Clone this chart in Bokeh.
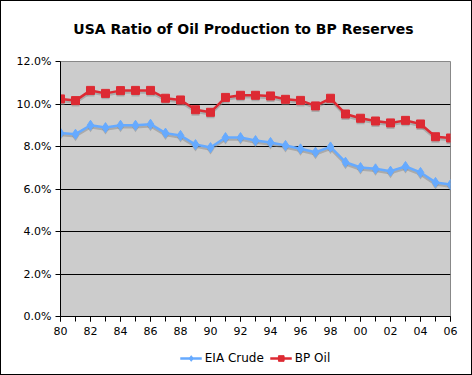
from bokeh.plotting import figure
from bokeh.layouts import column
from bokeh.models import (Range1d, FixedTicker, PrintfTickFormatter, Legend, LegendItem,
                          ColumnDataSource, Label)
from bokeh.embed import file_html
from bokeh.resources import INLINE

years = list(range(1980, 2007))
eia_crude = [8.63, 8.58, 9.00, 8.89, 9.00, 9.00, 9.05, 8.63, 8.52, 8.09, 7.95, 8.42, 8.42, 8.28,
             8.19, 8.05, 7.89, 7.73, 7.98, 7.26, 7.01, 6.95, 6.84, 7.06, 6.78, 6.31, 6.21]
bp_oil = [10.24, 10.16, 10.64, 10.50, 10.63, 10.64, 10.64, 10.27, 10.19, 9.73, 9.61, 10.31, 10.41, 10.41,
          10.38, 10.22, 10.17, 9.91, 10.27, 9.53, 9.33, 9.20, 9.11, 9.23, 9.06, 8.46, 8.40]
x_tick_years = list(range(1980, 2007, 2))
x_tick_labels = ["80", "82", "84", "86", "88", "90", "92", "94", "96", "98", "00", "02", "04", "06"]
y_ticks = [0, 2, 4, 6, 8, 10, 12]
series_names = ["EIA Crude", "BP Oil"]
title_text = "USA Ratio of Oil Production to BP Reserves"

BLUE = "#66aaff"
RED = "#dd2a33"
FONT = "DejaVu Sans"

src = ColumnDataSource(dict(year=years, eia=eia_crude, bp=bp_oil))

# title strip
p0 = figure(width=470, height=50, output_backend="svg", toolbar_location=None,
            x_range=Range1d(0, 470), y_range=Range1d(0, 50),
            min_border_left=0, min_border_right=0, min_border_top=0, min_border_bottom=0)
p0.axis.visible = False
p0.grid.visible = False
p0.outline_line_color = None
p0.add_layout(Label(x=220.5, y=23, text=title_text, text_align="center", text_baseline="middle",
                    text_font=FONT, text_font_size="14px", text_font_style="bold", text_color="black"))

# main chart
p = figure(width=470, height=291, output_backend="svg", toolbar_location=None,
           x_range=Range1d(1980, 2006), y_range=Range1d(0, 12),
           min_border_left=59, min_border_right=21, min_border_top=10, min_border_bottom=26)
p.extra_y_ranges = {"shadow": Range1d(0.094, 12.094)}

p.background_fill_color = "#cccccc"
p.border_fill_color = "white"
p.outline_line_color = "#888888"
p.outline_line_width = 1

p.xgrid.visible = False
p.ygrid.ticker = FixedTicker(ticks=y_ticks)
p.ygrid.grid_line_color = "black"
p.ygrid.grid_line_width = 1

p.yaxis.ticker = FixedTicker(ticks=y_ticks)
p.yaxis.formatter = PrintfTickFormatter(format="%.1f%%")
p.xaxis.ticker = FixedTicker(ticks=x_tick_years, minor_ticks=years)
p.xaxis.major_label_overrides = {y: l for y, l in zip(x_tick_years, x_tick_labels)}
for ax in (p.xaxis, p.yaxis):
    ax.axis_line_color = "black"
    ax.major_tick_line_color = "black"
    ax.major_tick_out = 5
    ax.major_tick_in = 0
    ax.minor_tick_in = 0
    ax.minor_tick_out = 5
    ax.major_label_text_font = FONT
    ax.major_label_text_font_size = "11px"
    ax.major_label_text_color = "black"
p.yaxis.minor_tick_line_color = None
p.xaxis.minor_tick_line_color = "black"
p.yaxis.major_label_standoff = 4
p.xaxis.major_label_standoff = 5

# shadows
for col in ("eia", "bp"):
    p.line("year", col, source=src, line_color="#888888", line_alpha=0.5, line_width=2.5, y_range_name="shadow")
p.scatter("year", "eia", source=src, marker="diamond", size=10, fill_color="#888888", line_color=None,
          fill_alpha=0.5, y_range_name="shadow")
p.scatter("year", "bp", source=src, marker="square", size=8, fill_color="#888888", line_color=None,
          fill_alpha=0.5, y_range_name="shadow")

p.line("year", "eia", source=src, line_color=BLUE, line_width=2.5)
p.scatter("year", "eia", source=src, marker="diamond", size=10, fill_color=BLUE, line_color=BLUE)
p.line("year", "bp", source=src, line_color=RED, line_width=2.5)
p.scatter("year", "bp", source=src, marker="square", size=8, fill_color=RED, line_color=RED)

# legend strip below the chart (its renderers sit outside the visible range)
p2 = figure(width=470, height=32, output_backend="svg", toolbar_location=None,
            x_range=Range1d(0, 1), y_range=Range1d(0, 1),
            min_border_left=48, min_border_right=0, min_border_top=0, min_border_bottom=0)
p2.axis.visible = False
p2.grid.visible = False
p2.outline_line_color = None
p2.background_fill_alpha = 0
off = ColumnDataSource(dict(x=[-10, -11], y=[-10, -11]))
l1 = p2.line("x", "y", source=off, line_color=BLUE, line_width=2.5)
m1 = p2.scatter("x", "y", source=off, marker="diamond", size=8, fill_color=BLUE, line_color=BLUE)
l2 = p2.line("x", "y", source=off, line_color=RED, line_width=2.5)
m2 = p2.scatter("x", "y", source=off, marker="square", size=7, fill_color=RED, line_color=RED)
legend = Legend(items=[LegendItem(label=series_names[0], renderers=[l1, m1]),
                       LegendItem(label=series_names[1], renderers=[l2, m2])],
                orientation="horizontal", location="center",
                border_line_color=None, background_fill_alpha=0,
                label_text_font=FONT, label_text_font_size="12px", label_text_color="black",
                glyph_width=22, glyph_height=14, label_standoff=3, spacing=6,
                padding=2, margin=0)
p2.add_layout(legend)

layout = column(p0, p, p2, spacing=0, styles={"border": "1px solid black"})
open("out.html", "w").write(file_html(layout, INLINE))
